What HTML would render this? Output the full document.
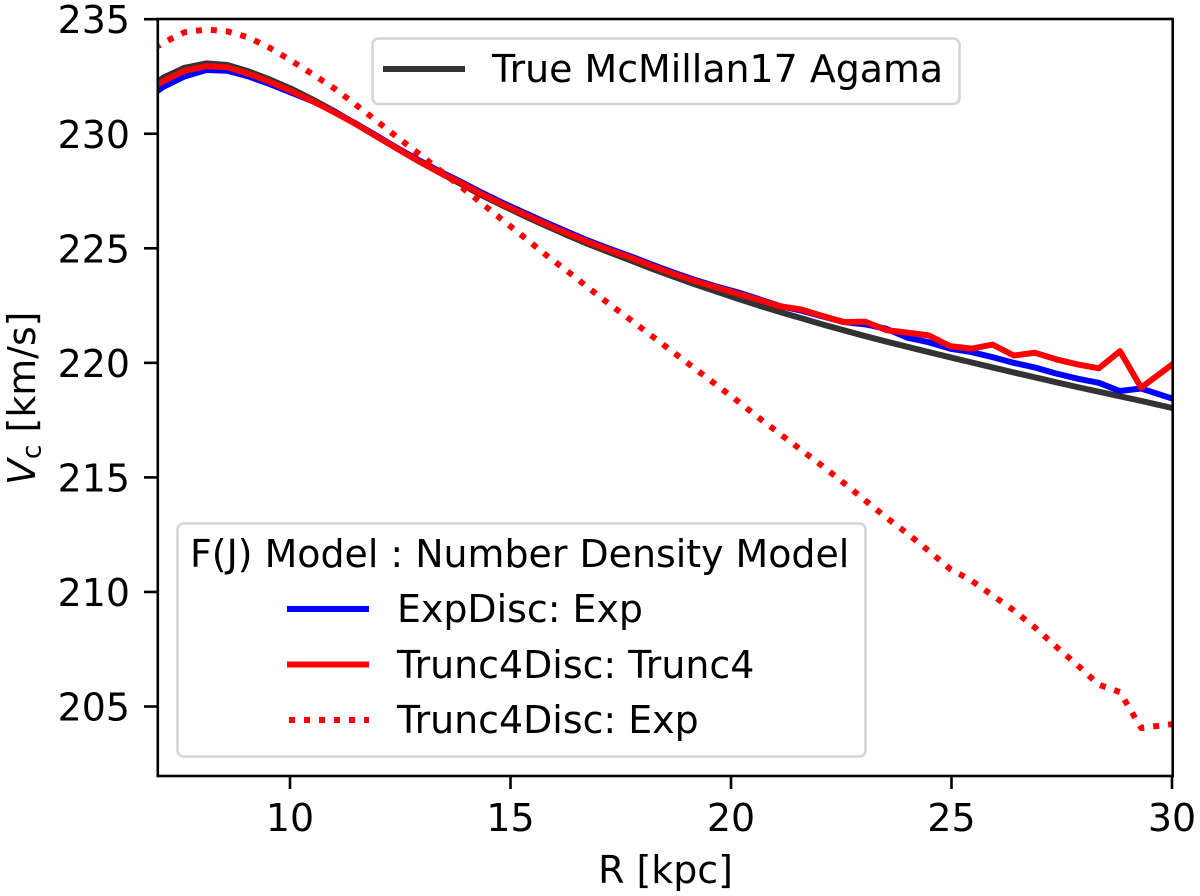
<!DOCTYPE html>
<html>
<head>
<meta charset="utf-8">
<style>
html,body{margin:0;padding:0;background:#fff;}
svg{display:block;}
text{font-family:"DejaVu Sans","Liberation Sans",sans-serif;fill:#000;}
</style>
</head>
<body>
<svg id="chart" width="1200" height="896" viewBox="0 0 1200 896" xmlns="http://www.w3.org/2000/svg">
  <defs><clipPath id="plot-clip"><rect x="158" y="19" width="1014.5" height="757"/></clipPath></defs>
  <g id="series-layer" clip-path="url(#plot-clip)"></g>
  <g id="tick-layer"></g>
  <rect x="157.8" y="19" width="1014.9" height="757" fill="none" stroke="#000" stroke-width="2.6"/>
  <text x="665.5" y="883" font-size="37.9" text-anchor="middle">R [kpc]</text>
  <text transform="translate(35,485) rotate(-90)" font-size="37.9"><tspan font-style="italic">V</tspan><tspan font-size="26.5" dy="5.5">c</tspan><tspan dy="-5.5"> [km/s]</tspan></text>

  <g>
    <rect x="372.5" y="38.5" width="587" height="65.5" rx="6" fill="#fff" fill-opacity="0.8" stroke="#d6d6d6" stroke-width="2.6"/>
    <line x1="383" y1="69" x2="465" y2="69" stroke="#333" stroke-width="6"/>
    <text x="492" y="82" font-size="37.9">True McMillan17 Agama</text>
  </g>

  <g>
    <rect x="177.5" y="523.5" width="688" height="233" rx="6" fill="#fff" fill-opacity="0.8" stroke="#d6d6d6" stroke-width="2.6"/>
    <text x="190" y="567" font-size="37.9">F(J) Model : Number Density Model</text>
    <line x1="287" y1="609" x2="369" y2="609" stroke="#0000ff" stroke-width="6"/>
    <text x="397" y="622" font-size="37.9">ExpDisc: Exp</text>
    <line x1="287" y1="664.5" x2="369" y2="664.5" stroke="#ff0000" stroke-width="6"/>
    <text x="397" y="678" font-size="37.9">Trunc4Disc: Trunc4</text>
    <line x1="289" y1="720" x2="369" y2="720" stroke="#ff0000" stroke-width="6" stroke-dasharray="6 9"/>
    <text x="397" y="733" font-size="37.9">Trunc4Disc: Exp</text>
  </g>
</svg>
<script>
const radiusKpc = [6.65,7.13,7.61,8.10,8.58,9.06,9.54,10.02,10.51,10.99,11.47,11.95,12.43,12.92,13.40,13.88,14.36,14.84,15.33,15.81,16.29,16.77,17.25,17.74,18.22,18.70,19.18,19.66,20.15,20.63,21.11,21.59,22.07,22.56,23.04,23.52,24.00,24.48,24.97,25.45,25.93,26.41,26.89,27.38,27.86,28.34,28.82,29.30,30.30];
const trueAgama = [231.8,232.45,232.88,233.07,233.0,232.72,232.37,231.97,231.5,231.0,230.45,229.9,229.35,228.8,228.3,227.8,227.3,226.85,226.4,225.98,225.57,225.18,224.82,224.46,224.1,223.76,223.43,223.12,222.8,222.5,222.22,221.95,221.68,221.42,221.17,220.93,220.7,220.47,220.24,220.02,219.8,219.58,219.37,219.15,218.94,218.74,218.54,218.34,217.9];
const expDiscExp = [231.4,232.05,232.5,232.78,232.75,232.5,232.17,231.8,231.42,230.97,230.47,229.93,229.38,228.85,228.35,227.9,227.42,226.97,226.54,226.12,225.72,225.33,224.98,224.64,224.28,223.94,223.62,223.34,223.08,222.78,222.48,222.28,222.03,221.78,221.68,221.49,221.1,220.9,220.62,220.47,220.25,220.0,219.8,219.53,219.31,219.13,218.77,218.88,218.26];
const trunc4Trunc4 = [231.75,232.3,232.75,232.95,232.9,232.62,232.27,231.87,231.43,230.95,230.45,229.9,229.35,228.8,228.3,227.85,227.35,226.9,226.47,226.05,225.65,225.27,224.92,224.58,224.22,223.88,223.57,223.3,223.02,222.75,222.47,222.33,222.05,221.78,221.8,221.43,221.32,221.2,220.73,220.62,220.8,220.32,220.44,220.15,219.93,219.76,220.51,218.92,220.35];
const trunc4Exp = [233.4,233.98,234.43,234.55,234.47,234.2,233.75,233.2,232.6,232.0,231.3,230.58,229.85,229.13,228.4,227.68,226.95,226.2,225.45,224.7,224.0,223.27,222.55,221.85,221.15,220.45,219.75,219.05,218.33,217.6,216.9,216.2,215.5,214.75,214.0,213.25,212.55,211.8,211.0,210.5,209.85,209.2,208.45,207.6,206.8,205.95,205.63,204.06,204.3];
const xTickValues = [10,15,20,25,30];
const yTickValues = [205,210,215,220,225,230,235];

const svgNS = 'http://www.w3.org/2000/svg';
function xScale(r){ return 290 + (r - 10) * 44.1; }
function yScale(v){ return 19.2 + (235 - v) * 22.91; }

const seriesLayer = document.getElementById('series-layer');
const tickLayer = document.getElementById('tick-layer');

function drawSeries(values, name, color, dash){
  const path = document.createElementNS(svgNS, 'path');
  const d = values.map(function(v, i){
    return (i ? 'L' : 'M') + xScale(radiusKpc[i]).toFixed(2) + ' ' + yScale(v).toFixed(2);
  }).join(' ');
  path.setAttribute('d', d);
  path.setAttribute('fill', 'none');
  path.setAttribute('stroke', color);
  path.setAttribute('stroke-width', '6');
  path.setAttribute('stroke-linejoin', 'round');
  if (dash) path.setAttribute('stroke-dasharray', dash);
  
  
  seriesLayer.appendChild(path);
}
drawSeries(trueAgama, 'line-true-mcmillan17-agama', '#333333');
drawSeries(expDiscExp, 'line-expdisc-exp', '#0000ff');
drawSeries(trunc4Exp, 'line-trunc4disc-exp', '#ff0000', '6 9');
drawSeries(trunc4Trunc4, 'line-trunc4disc-trunc4', '#ff0000');

xTickValues.forEach(function(t){
  const px = xScale(t);
  const tick = document.createElementNS(svgNS, 'line');
  tick.setAttribute('x1', px);
  tick.setAttribute('x2', px);
  tick.setAttribute('y1', 776);
  tick.setAttribute('y2', 789);
  tick.setAttribute('stroke', '#000');
  tick.setAttribute('stroke-width', '2.6');
  
  
  tickLayer.appendChild(tick);
  const label = document.createElementNS(svgNS, 'text');
  label.setAttribute('x', px);
  label.setAttribute('y', 831);
  label.setAttribute('font-size', '37.9');
  label.setAttribute('text-anchor', 'middle');
  label.textContent = String(t);
  
  
  tickLayer.appendChild(label);
});

yTickValues.forEach(function(t){
  const py = yScale(t);
  const tick = document.createElementNS(svgNS, 'line');
  tick.setAttribute('x1', 144);
  tick.setAttribute('x2', 158);
  tick.setAttribute('y1', py);
  tick.setAttribute('y2', py);
  tick.setAttribute('stroke', '#000');
  tick.setAttribute('stroke-width', '2.6');
  
  
  tickLayer.appendChild(tick);
  const label = document.createElementNS(svgNS, 'text');
  label.setAttribute('x', 130);
  label.setAttribute('y', py + 14);
  label.setAttribute('font-size', '37.9');
  label.setAttribute('text-anchor', 'end');
  label.textContent = String(t);
  
  
  tickLayer.appendChild(label);
});
</script>
</body>
</html>
